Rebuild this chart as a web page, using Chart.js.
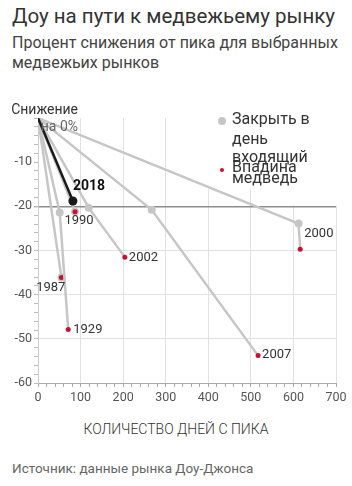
<!DOCTYPE html>
<html>
<head>
<meta charset="utf-8">
<script src="https://cdn.jsdelivr.net/npm/chart.js"></script>
<style>
  body { margin: 0; width: 352px; height: 486px; background: #fff; position: relative; overflow: hidden;
         font-family: Roboto, "Noto Sans", sans-serif; }
  #title { position: absolute; left: 12px; top: 4px; font-size: 20.5px; line-height: 24px; color: #333; white-space: nowrap; }
  #subtitle { position: absolute; left: 12px; top: 33px; font-size: 16px; line-height: 20px; color: #444; white-space: nowrap; }
  #chartBox { position: absolute; left: 0; top: 100px; }
  #xTitle { position: absolute; left: 0; width: 352px; top: 421px; text-align: center; font-size: 14px; line-height: 16px; color: #333; font-weight: 300; }
  #source { position: absolute; left: 12px; top: 460px; font-size: 13.5px; line-height: 16px; color: #666; }
</style>
</head>
<body>
<div id="title">Доу на пути к медвежьему рынку</div>
<div id="subtitle">Процент снижения от пика для выбранных<br>медвежьих рынков</div>
<div id="chartBox"><canvas id="bearChart" width="352" height="305"></canvas></div>
<div id="xTitle">КОЛИЧЕСТВО ДНЕЙ С ПИКА</div>
<div id="source">Источник: данные рынка Доу-Джонса</div>

<script>
// bear markets: day the close crossed -20% and the bottom
const years = ['1929', '1987', '1990', '2000', '2002', '2007'];
const enterDays = [51, 55, 87, 612, 119, 267];
const enterPct = [-21.4, -36.1, -21.2, -23.9, -20.3, -20.8];
const troughDays = [71, 55, 87, 616, 204, 517];
const troughPct = [-47.9, -36.1, -21.2, -29.7, -31.5, -53.8];

// current decline
const currentYear = '2018';
const currentDays = 82;
const currentPct = -18.8;

const xTickLabels = [0, 100, 200, 300, 400, 500, 600, 700];
const yTickLabels = [-10, -20, -30, -40, -50, -60];

const legendNames = [['Закрыть в', 'день', 'входящий'], ['Впадина', 'медведь']];
const yAxisNote = ['Снижение', 'на 0%'];

const GRAY = '#c6c6c6';
const RED = '#c8102e';
const TEXT = '#333';

// where each year label sits next to its last point
const labelPos = {
    '2018': { dx: 0, dy: -15, align: 'left', bold: true },
    '1929': { dx: 5, dy: 0, align: 'left' },
    '1987': { dx: 4, dy: 10, align: 'right' },
    '1990': { dx: 4, dy: 9, align: 'center' },
    '2000': { dx: 4, dy: -15, align: 'left' },
    '2002': { dx: 4, dy: 1, align: 'left' },
    '2007': { dx: 4, dy: -1, align: 'left' }
};

let datasets = [];
datasets.push({
    label: currentYear,
    data: [{ x: 0, y: 0 }, { x: currentDays, y: currentPct }],
    borderColor: '#1a1a1a',
    borderWidth: 2.5,
    pointRadius: [0, 4.5],
    pointBackgroundColor: '#1a1a1a',
    pointBorderWidth: 0
});
for (let i = 0; i < years.length; i++) {
    datasets.push({
        label: years[i],
        data: [{ x: 0, y: 0 }, { x: enterDays[i], y: enterPct[i] }, { x: troughDays[i], y: troughPct[i] }],
        borderColor: GRAY,
        borderWidth: 2.5,
        pointRadius: [0, 4, 2.5],
        pointBackgroundColor: [GRAY, GRAY, RED],
        pointBorderWidth: 0
    });
}

const coverPlugin = {
    id: 'cover',
    beforeDatasetsDraw(chart) {
        // white box behind the legend hides the grid
        const ctx = chart.ctx, x = chart.scales.x, y = chart.scales.y;
        ctx.save();
        ctx.fillStyle = '#fff';
        ctx.fillRect(x.getPixelForValue(360), y.getPixelForValue(0), chart.width, y.getPixelForValue(-16) - y.getPixelForValue(0));
        ctx.fillRect(x.getPixelForValue(560), y.getPixelForValue(-16), chart.width, y.getPixelForValue(-20) - y.getPixelForValue(-16) - 1);
        ctx.restore();
    }
};

const labelPlugin = {
    id: 'yearLabels',
    afterDatasetsDraw(chart) {
        const ctx = chart.ctx;
        ctx.save();
        ctx.textBaseline = 'middle';
        chart.data.datasets.forEach(function (ds, i) {
            const meta = chart.getDatasetMeta(i);
            const pt = meta.data[meta.data.length - 1];
            const p = labelPos[ds.label];
            ctx.font = (p.bold ? 'bold 14px' : '13px') + ' Roboto, sans-serif';
            ctx.fillStyle = p.bold ? '#111' : TEXT;
            ctx.textAlign = p.align;
            ctx.fillText(ds.label, pt.x + p.dx, pt.y + p.dy);
        });

        // y axis note at the origin
        const a = chart.chartArea;
        ctx.textAlign = 'right';
        ctx.font = '14px Roboto, sans-serif';
        ctx.fillStyle = TEXT;
        ctx.fillText(yAxisNote[0], a.left + 40, a.top - 8);
        ctx.fillStyle = '#666';
        ctx.fillText(yAxisNote[1], a.left + 40, a.top + 9);

        // legend
        ctx.textAlign = 'left';
        ctx.font = '16px Roboto, sans-serif';
        ctx.fillStyle = GRAY;
        ctx.beginPath();
        ctx.arc(222, a.top + 3, 4, 0, Math.PI * 2);
        ctx.fill();
        ctx.fillStyle = RED;
        ctx.beginPath();
        ctx.arc(222, a.top + 52, 2, 0, Math.PI * 2);
        ctx.fill();
        ctx.fillStyle = TEXT;
        const lineY = [[2, 22, 40], [50, 61]];
        for (let k = 0; k < legendNames.length; k++) {
            for (let j = 0; j < legendNames[k].length; j++) {
                ctx.fillText(legendNames[k][j], 232, a.top + lineY[k][j]);
            }
        }
        ctx.restore();
    }
};

new Chart(document.getElementById('bearChart'), {
    type: 'line',
    data: { datasets: datasets },
    plugins: [coverPlugin, labelPlugin],
    options: {
        responsive: false,
        animation: false,
        devicePixelRatio: 1,
        events: [],
        layout: { padding: { top: 18, right: 16, left: 0, bottom: 0 } },
        plugins: { legend: { display: false }, tooltip: { enabled: false } },
        scales: {
            x: {
                type: 'linear',
                min: 0,
                max: 700,
                afterFit: function (s) { s.height = 22; },
                ticks: {
                    stepSize: 20,
                    autoSkip: false,
                    maxRotation: 0,
                    padding: 3,
                    color: '#555',
                    font: { family: 'Roboto', size: 12.5 },
                    callback: function (v) { return xTickLabels.includes(v) ? v : ''; }
                },
                grid: {
                    tickLength: 4,
                    tickColor: '#aaa',
                    color: function (c) {
                        const v = c.tick && c.tick.value;
                        return (v > 0 && v % 100 === 0) ? '#e2e2e2' : 'rgba(0,0,0,0)';
                    }
                },
                border: { color: '#aaa' }
            },
            y: {
                min: -60,
                max: 0,
                afterFit: function (s) { s.width = 38; },
                ticks: {
                    stepSize: 2,
                    autoSkip: false,
                    padding: 2,
                    color: '#555',
                    font: { family: 'Roboto', size: 12.5 },
                    callback: function (v) { return yTickLabels.includes(v) ? v : ''; }
                },
                grid: {
                    tickLength: 4,
                    tickColor: '#bbb',
                    lineWidth: function (c) { return c.tick && c.tick.value === -20 ? 1.5 : 1; },
                    color: function (c) {
                        const v = c.tick && c.tick.value;
                        if (v === -20) return '#8c8c8c';
                        if (v === -30 || v === -40 || v === -50) return '#e2e2e2';
                        return 'rgba(0,0,0,0)';
                    }
                },
                border: { color: '#ccc' }
            }
        }
    }
});
</script>
</body>
</html>
